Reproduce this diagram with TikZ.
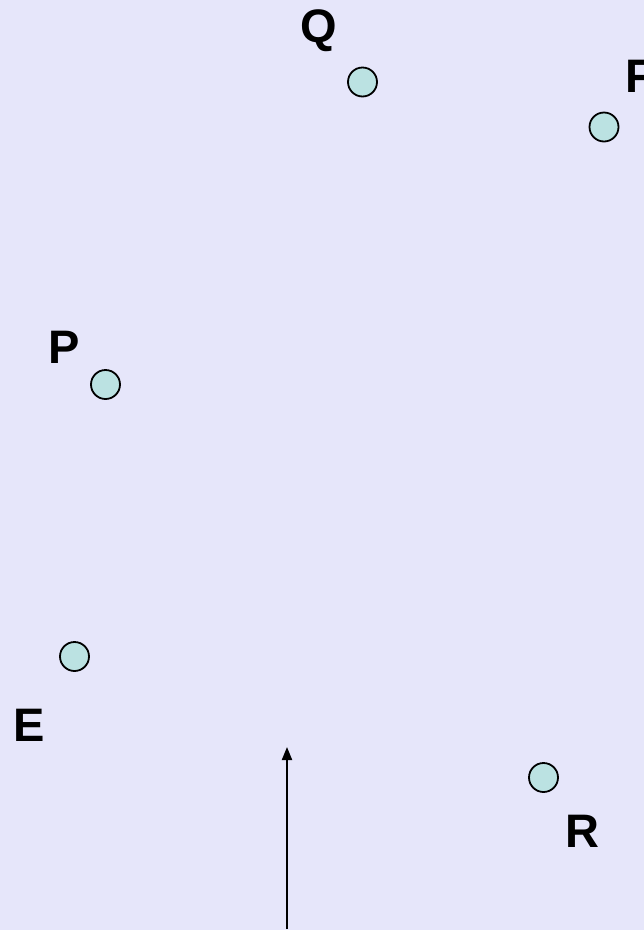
\documentclass[tikz,border=0pt]{standalone}
\usepackage{fontspec}
\setmainfont{Liberation Sans}
\usetikzlibrary{arrows.meta}
\definecolor{bgcol}{RGB}{230,230,250}
\definecolor{dotfill}{RGB}{187,226,226}
\begin{document}
\begin{tikzpicture}[x=1pt,y=1pt,
  dot/.style={circle,draw=black,line width=1.8pt,fill=dotfill,minimum size=29pt,inner sep=0pt},
  lbl/.style={anchor=base,inner sep=0pt,font=\fontsize{47}{50}\selectfont\bfseries}]
\fill[bgcol] (0,0) rectangle (644,-930);
\useasboundingbox (0,0) rectangle (644,-930);
\node[dot] (Qd) at (362.5,-82) {};
\node[dot] (Fd) at (604,-127) {};
\node[dot] (Pd) at (105.5,-384.5) {};
\node[dot] (Ed) at (74.5,-656.5) {};
\node[dot] (Rd) at (543.5,-777.5) {};
\node[lbl] (Ql) at (318.5,-42) {Q};
\node[lbl] (Fl) at (640,-92) {F};
\node[lbl] (Pl) at (64.5,-363) {P};
\node[lbl] (El) at (29.5,-741) {E};
\node[lbl] (Rl) at (582,-847) {R};
\coordinate (a0) at (287,-929);
\coordinate (a1) at (287,-747);
\draw[line width=2pt,-{Triangle[length=13pt,width=10pt]}] (a0) -- (a1);
\end{tikzpicture}
\end{document}
